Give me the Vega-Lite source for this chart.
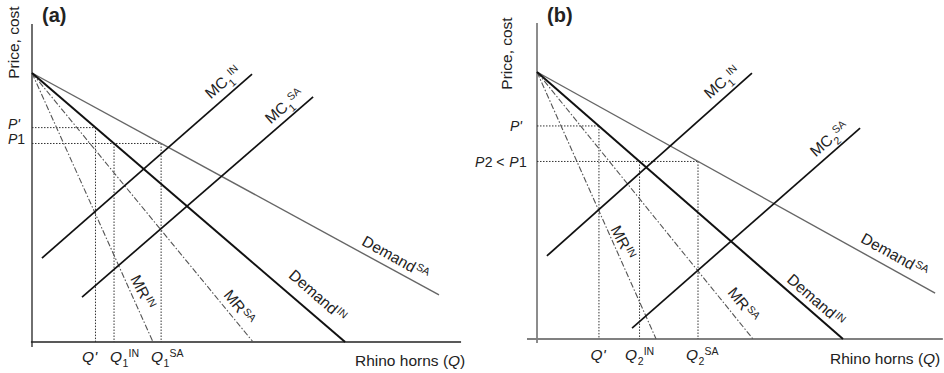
{
  "$schema": "https://vega.github.io/schema/vega-lite/v6.json",
  "width": 944,
  "height": 373,
  "autosize": {"type": "fit", "contains": "padding"},
  "padding": 0,
  "background": "white",
  "config": {"view": {"stroke": null}, "text": {"font": "Liberation Sans", "color": "#222"}},
  "data": {"values": [
    {"panel": "a", "kind": "axis", "q": 0, "p": -1.9, "q2": 0, "p2": 118.2},
    {"panel": "a", "kind": "axis", "q": -0.4, "p": 0, "q2": 159.5, "p2": 0},
    {"panel": "a", "kind": "demandSA", "q": 0, "p": 100, "q2": 151.3, "p2": 17.5},
    {"panel": "a", "kind": "demandIN", "q": 0, "p": 100, "q2": 116.4, "p2": 0},
    {"panel": "a", "kind": "mr", "q": 0, "p": 100, "q2": 45.0, "p2": 0},
    {"panel": "a", "kind": "mr", "q": 0, "p": 100, "q2": 82.2, "p2": 0},
    {"panel": "a", "kind": "mc", "q": 3.7, "p": 31.2, "q2": 81.8, "p2": 99.6},
    {"panel": "a", "kind": "mc", "q": 18.6, "p": 16.7, "q2": 104.5, "p2": 91.1},
    {"panel": "a", "kind": "guide", "q": 0, "p": 79.7, "q2": 23.6, "p2": 79.7},
    {"panel": "a", "kind": "guide", "q": 23.6, "p": 79.7, "q2": 23.6, "p2": 0},
    {"panel": "a", "kind": "guide", "q": 0, "p": 73.8, "q2": 48.0, "p2": 73.8},
    {"panel": "a", "kind": "guide", "q": 30.5, "p": 73.8, "q2": 30.5, "p2": 0},
    {"panel": "a", "kind": "guide", "q": 48.0, "p": 73.8, "q2": 48.0, "p2": 0},
    {"panel": "a", "kind": "label", "dir": "mc", "label": "MC", "sub": "1", "sup": "IN", "q": 73.2, "p": 96.0},
    {"panel": "a", "kind": "label", "dir": "mc", "label": "MC", "sub": "1", "sup": "SA", "q": 95.5, "p": 86.7},
    {"panel": "a", "kind": "label", "dir": "mrin", "label": "MR", "sub": "", "sup": "IN", "q": 40.5, "p": 15.6},
    {"panel": "a", "kind": "label", "dir": "mrsa", "label": "MR", "sub": "", "sup": "SA", "q": 76.6, "p": 10.4},
    {"panel": "a", "kind": "label", "dir": "din", "label": "Demand", "sub": "", "sup": "IN", "q": 111.5, "p": 10.0},
    {"panel": "a", "kind": "label", "dir": "dsa", "label": "Demand", "sub": "", "sup": "SA", "q": 141.3, "p": 25.7},
    {"panel": "a", "kind": "label", "dir": "h", "label": "Q'", "sub": "", "sup": "", "q": 24.2, "p": -7.43},
    {"panel": "a", "kind": "label", "dir": "h", "label": "Q", "sub": "1", "sup": "IN", "q": 33.5, "p": -7.43},
    {"panel": "a", "kind": "label", "dir": "h", "label": "Q", "sub": "1", "sup": "SA", "q": 48.7, "p": -7.43},
    {"panel": "a", "kind": "piece", "role": "heading", "text": "(a)", "q": 3.72, "p": 118.96},
    {"panel": "a", "kind": "piece", "role": "ytitle", "text": "Price, cost", "q": -4.65, "p": 111.3},
    {"panel": "a", "kind": "piece", "role": "pvar", "text": "P'", "q": -8.92, "p": 79.37},
    {"panel": "a", "kind": "piece", "role": "pvar", "text": "P", "q": -8.92, "p": 73.61},
    {"panel": "a", "kind": "piece", "role": "ptext", "text": "1", "q": -5.46, "p": 73.61},
    {"panel": "a", "kind": "piece", "role": "text", "text": "Rhino horns (", "q": 120.07, "p": -8.92},
    {"panel": "a", "kind": "piece", "role": "var", "text": "Q", "q": 154.65, "p": -8.92},
    {"panel": "a", "kind": "piece", "role": "text", "text": ")", "q": 159.14, "p": -8.92},

    {"panel": "b", "kind": "axis", "q": 0, "p": -1.5, "q2": 0, "p2": 118.4},
    {"panel": "b", "kind": "axis", "q": -3.75, "p": 0, "q2": 152.0, "p2": 0},
    {"panel": "b", "kind": "demandSA", "q": 0, "p": 100, "q2": 149.1, "p2": 17.2},
    {"panel": "b", "kind": "demandIN", "q": 0, "p": 100, "q2": 114.6, "p2": 0},
    {"panel": "b", "kind": "mr", "q": 0, "p": 100, "q2": 44.6, "p2": 0},
    {"panel": "b", "kind": "mr", "q": 0, "p": 100, "q2": 80.9, "p2": 0},
    {"panel": "b", "kind": "mc", "q": 3.7, "p": 31.1, "q2": 80.5, "p2": 99.6},
    {"panel": "b", "kind": "mc", "q": 35.6, "p": 4.1, "q2": 121.0, "p2": 79.0},
    {"panel": "b", "kind": "guide", "q": 0, "p": 79.8, "q2": 23.2, "p2": 79.8},
    {"panel": "b", "kind": "guide", "q": 23.2, "p": 79.8, "q2": 23.2, "p2": 0},
    {"panel": "b", "kind": "guide", "q": 0, "p": 66.5, "q2": 60.3, "p2": 66.5},
    {"panel": "b", "kind": "guide", "q": 38.4, "p": 66.5, "q2": 38.4, "p2": 0},
    {"panel": "b", "kind": "guide", "q": 60.3, "p": 66.5, "q2": 60.3, "p2": 0},
    {"panel": "b", "kind": "label", "dir": "mc", "label": "MC", "sub": "1", "sup": "IN", "q": 71.5, "p": 95.6},
    {"panel": "b", "kind": "label", "dir": "mc", "label": "MC", "sub": "2", "sup": "SA", "q": 111.2, "p": 73.9},
    {"panel": "b", "kind": "label", "dir": "mrin", "label": "MR", "sub": "", "sup": "IN", "q": 31.5, "p": 33.2},
    {"panel": "b", "kind": "label", "dir": "mrsa", "label": "MR", "sub": "", "sup": "SA", "q": 76.8, "p": 10.3},
    {"panel": "b", "kind": "label", "dir": "din", "label": "Demand", "sub": "", "sup": "IN", "q": 109.8, "p": 7.3},
    {"panel": "b", "kind": "label", "dir": "dsa", "label": "Demand", "sub": "", "sup": "SA", "q": 140.1, "p": 25.8},
    {"panel": "b", "kind": "label", "dir": "h", "label": "Q'", "sub": "", "sup": "", "q": 25.7, "p": -7.68},
    {"panel": "b", "kind": "label", "dir": "h", "label": "Q", "sub": "2", "sup": "IN", "q": 37.5, "p": -7.68},
    {"panel": "b", "kind": "label", "dir": "h", "label": "Q", "sub": "2", "sup": "SA", "q": 60.3, "p": -7.68},
    {"panel": "b", "kind": "piece", "role": "heading", "text": "(b)", "q": 3.75, "p": 118.73},
    {"panel": "b", "kind": "piece", "role": "ytitle", "text": "Price, cost", "q": -9.18, "p": 106.93},
    {"panel": "b", "kind": "piece", "role": "pvar", "text": "P'", "q": -10.11, "p": 78.09},
    {"panel": "b", "kind": "piece", "role": "pvar", "text": "P", "q": -23.22, "p": 64.42},
    {"panel": "b", "kind": "piece", "role": "ptext", "text": "2 <", "q": -19.6, "p": 64.42},
    {"panel": "b", "kind": "piece", "role": "pvar", "text": "P", "q": -10.39, "p": 64.42},
    {"panel": "b", "kind": "piece", "role": "ptext", "text": "1", "q": -6.77, "p": 64.42},
    {"panel": "b", "kind": "piece", "role": "text", "text": "Rhino horns (", "q": 109.74, "p": -9.36},
    {"panel": "b", "kind": "piece", "role": "var", "text": "Q", "q": 144.57, "p": -9.36},
    {"panel": "b", "kind": "piece", "role": "text", "text": ")", "q": 149.1, "p": -9.36}
  ]},
  "layer": [
    {
      "transform": [{"filter": "datum.panel === 'a'"}],
      "encoding": {
        "x": {"field": "q", "type": "quantitative", "scale": {"domain": [-11.896, 339.03], "nice": false, "zero": false}, "axis": null},
        "y": {"field": "p", "type": "quantitative", "scale": {"domain": [-11.52, 127.14], "nice": false, "zero": false}, "axis": null}
      },
      "layer": [
        {"transform": [{"filter": "datum.kind === 'axis'"}], "mark": {"type": "rule", "color": "#222", "strokeWidth": 1.3}, "encoding": {"x2": {"field": "q2"}, "y2": {"field": "p2"}}},
        {"transform": [{"filter": "datum.kind === 'guide'"}], "mark": {"type": "rule", "color": "#333", "strokeWidth": 1, "strokeDash": [1.5, 1.5]}, "encoding": {"x2": {"field": "q2"}, "y2": {"field": "p2"}}},
        {"transform": [{"filter": "datum.kind === 'demandSA'"}], "mark": {"type": "rule", "color": "#666", "strokeWidth": 1.4}, "encoding": {"x2": {"field": "q2"}, "y2": {"field": "p2"}}},
        {"transform": [{"filter": "datum.kind === 'mr'"}], "mark": {"type": "rule", "color": "#555", "strokeWidth": 1.1, "strokeDash": [6, 2, 1.5, 2]}, "encoding": {"x2": {"field": "q2"}, "y2": {"field": "p2"}}},
        {"transform": [{"filter": "datum.kind === 'demandIN'"}], "mark": {"type": "rule", "color": "#111", "strokeWidth": 2}, "encoding": {"x2": {"field": "q2"}, "y2": {"field": "p2"}}},
        {"transform": [{"filter": "datum.kind === 'mc'"}], "mark": {"type": "rule", "color": "#111", "strokeWidth": 1.7}, "encoding": {"x2": {"field": "q2"}, "y2": {"field": "p2"}}},
        {"transform": [{"filter": "datum.kind === 'label' && datum.dir !== 'h'"}], "mark": {"type": "text", "align": "right", "baseline": "alphabetic", "fontSize": 15.5}, "encoding": {"text": {"field": "label"}, "angle": {"field": "dir", "type": "nominal", "scale": {"type": "ordinal", "domain": ["h", "mc", "mrin", "mrsa", "din", "dsa"], "range": [0, 319, 63, 51, 41, 29]}, "legend": null}}},
        {"transform": [{"filter": "datum.kind === 'label' && datum.dir === 'h'"}], "mark": {"type": "text", "align": "right", "baseline": "alphabetic", "fontSize": 15.5, "fontStyle": "italic"}, "encoding": {"text": {"field": "label"}}},
        {"transform": [{"filter": "datum.kind === 'label' && datum.sub !== ''"}], "mark": {"type": "text", "align": "left", "baseline": "alphabetic", "fontSize": 10.5, "dx": 0.5, "dy": 5}, "encoding": {"text": {"field": "sub"}, "angle": {"field": "dir", "type": "nominal", "scale": {"type": "ordinal", "domain": ["h", "mc", "mrin", "mrsa", "din", "dsa"], "range": [0, 319, 63, 51, 41, 29]}, "legend": null}}},
        {"transform": [{"filter": "datum.kind === 'label' && datum.sub !== '' && datum.sup !== ''"}], "mark": {"type": "text", "align": "left", "baseline": "alphabetic", "fontSize": 10.5, "dx": 6.5, "dy": -4.5}, "encoding": {"text": {"field": "sup"}, "angle": {"field": "dir", "type": "nominal", "scale": {"type": "ordinal", "domain": ["h", "mc", "mrin", "mrsa", "din", "dsa"], "range": [0, 319, 63, 51, 41, 29]}, "legend": null}}},
        {"transform": [{"filter": "datum.kind === 'label' && datum.sub === '' && datum.sup !== ''"}], "mark": {"type": "text", "align": "left", "baseline": "alphabetic", "fontSize": 10.5, "dx": 1, "dy": -5}, "encoding": {"text": {"field": "sup"}, "angle": {"field": "dir", "type": "nominal", "scale": {"type": "ordinal", "domain": ["h", "mc", "mrin", "mrsa", "din", "dsa"], "range": [0, 319, 63, 51, 41, 29]}, "legend": null}}},
        {"transform": [{"filter": "datum.kind === 'piece' && datum.role === 'var'"}], "mark": {"type": "text", "align": "left", "baseline": "alphabetic", "fontSize": 15.5, "fontStyle": "italic"}, "encoding": {"text": {"field": "text"}}},
        {"transform": [{"filter": "datum.kind === 'piece' && datum.role === 'text'"}], "mark": {"type": "text", "align": "left", "baseline": "alphabetic", "fontSize": 15.5}, "encoding": {"text": {"field": "text"}}},
        {"transform": [{"filter": "datum.kind === 'piece' && datum.role === 'pvar'"}], "mark": {"type": "text", "align": "left", "baseline": "alphabetic", "fontSize": 14, "fontStyle": "italic"}, "encoding": {"text": {"field": "text"}}},
        {"transform": [{"filter": "datum.kind === 'piece' && datum.role === 'ptext'"}], "mark": {"type": "text", "align": "left", "baseline": "alphabetic", "fontSize": 14}, "encoding": {"text": {"field": "text"}}},
        {"transform": [{"filter": "datum.kind === 'piece' && datum.role === 'heading'"}], "mark": {"type": "text", "align": "left", "baseline": "alphabetic", "fontSize": 20, "fontWeight": "bold"}, "encoding": {"text": {"field": "text"}}},
        {"transform": [{"filter": "datum.kind === 'piece' && datum.role === 'ytitle'"}], "mark": {"type": "text", "align": "center", "baseline": "alphabetic", "fontSize": 15.5, "angle": 270}, "encoding": {"text": {"field": "text"}}}
      ]
    },
    {
      "transform": [{"filter": "datum.panel === 'b'"}],
      "encoding": {
        "x": {"field": "q", "type": "quantitative", "scale": {"domain": [-201.12, 152.43], "nice": false, "zero": false}, "axis": null},
        "y": {"field": "p", "type": "quantitative", "scale": {"domain": [-12.73, 126.97], "nice": false, "zero": false}, "axis": null}
      },
      "layer": [
        {"transform": [{"filter": "datum.kind === 'axis'"}], "mark": {"type": "rule", "color": "#808080", "strokeWidth": 1.8}, "encoding": {"x2": {"field": "q2"}, "y2": {"field": "p2"}}},
        {"transform": [{"filter": "datum.kind === 'guide'"}], "mark": {"type": "rule", "color": "#333", "strokeWidth": 1, "strokeDash": [1.5, 1.5]}, "encoding": {"x2": {"field": "q2"}, "y2": {"field": "p2"}}},
        {"transform": [{"filter": "datum.kind === 'demandSA'"}], "mark": {"type": "rule", "color": "#666", "strokeWidth": 1.4}, "encoding": {"x2": {"field": "q2"}, "y2": {"field": "p2"}}},
        {"transform": [{"filter": "datum.kind === 'mr'"}], "mark": {"type": "rule", "color": "#555", "strokeWidth": 1.1, "strokeDash": [6, 2, 1.5, 2]}, "encoding": {"x2": {"field": "q2"}, "y2": {"field": "p2"}}},
        {"transform": [{"filter": "datum.kind === 'demandIN'"}], "mark": {"type": "rule", "color": "#111", "strokeWidth": 2}, "encoding": {"x2": {"field": "q2"}, "y2": {"field": "p2"}}},
        {"transform": [{"filter": "datum.kind === 'mc'"}], "mark": {"type": "rule", "color": "#111", "strokeWidth": 1.7}, "encoding": {"x2": {"field": "q2"}, "y2": {"field": "p2"}}},
        {"transform": [{"filter": "datum.kind === 'label' && datum.dir !== 'h'"}], "mark": {"type": "text", "align": "right", "baseline": "alphabetic", "fontSize": 15.5}, "encoding": {"text": {"field": "label"}, "angle": {"field": "dir", "type": "nominal", "scale": {"type": "ordinal", "domain": ["h", "mc", "mrin", "mrsa", "din", "dsa"], "range": [0, 319, 63, 51, 41, 29]}, "legend": null}}},
        {"transform": [{"filter": "datum.kind === 'label' && datum.dir === 'h'"}], "mark": {"type": "text", "align": "right", "baseline": "alphabetic", "fontSize": 15.5, "fontStyle": "italic"}, "encoding": {"text": {"field": "label"}}},
        {"transform": [{"filter": "datum.kind === 'label' && datum.sub !== ''"}], "mark": {"type": "text", "align": "left", "baseline": "alphabetic", "fontSize": 10.5, "dx": 0.5, "dy": 5}, "encoding": {"text": {"field": "sub"}, "angle": {"field": "dir", "type": "nominal", "scale": {"type": "ordinal", "domain": ["h", "mc", "mrin", "mrsa", "din", "dsa"], "range": [0, 319, 63, 51, 41, 29]}, "legend": null}}},
        {"transform": [{"filter": "datum.kind === 'label' && datum.sub !== '' && datum.sup !== ''"}], "mark": {"type": "text", "align": "left", "baseline": "alphabetic", "fontSize": 10.5, "dx": 6.5, "dy": -4.5}, "encoding": {"text": {"field": "sup"}, "angle": {"field": "dir", "type": "nominal", "scale": {"type": "ordinal", "domain": ["h", "mc", "mrin", "mrsa", "din", "dsa"], "range": [0, 319, 63, 51, 41, 29]}, "legend": null}}},
        {"transform": [{"filter": "datum.kind === 'label' && datum.sub === '' && datum.sup !== ''"}], "mark": {"type": "text", "align": "left", "baseline": "alphabetic", "fontSize": 10.5, "dx": 1, "dy": -5}, "encoding": {"text": {"field": "sup"}, "angle": {"field": "dir", "type": "nominal", "scale": {"type": "ordinal", "domain": ["h", "mc", "mrin", "mrsa", "din", "dsa"], "range": [0, 319, 63, 51, 41, 29]}, "legend": null}}},
        {"transform": [{"filter": "datum.kind === 'piece' && datum.role === 'var'"}], "mark": {"type": "text", "align": "left", "baseline": "alphabetic", "fontSize": 15.5, "fontStyle": "italic"}, "encoding": {"text": {"field": "text"}}},
        {"transform": [{"filter": "datum.kind === 'piece' && datum.role === 'text'"}], "mark": {"type": "text", "align": "left", "baseline": "alphabetic", "fontSize": 15.5}, "encoding": {"text": {"field": "text"}}},
        {"transform": [{"filter": "datum.kind === 'piece' && datum.role === 'pvar'"}], "mark": {"type": "text", "align": "left", "baseline": "alphabetic", "fontSize": 14, "fontStyle": "italic"}, "encoding": {"text": {"field": "text"}}},
        {"transform": [{"filter": "datum.kind === 'piece' && datum.role === 'ptext'"}], "mark": {"type": "text", "align": "left", "baseline": "alphabetic", "fontSize": 14}, "encoding": {"text": {"field": "text"}}},
        {"transform": [{"filter": "datum.kind === 'piece' && datum.role === 'heading'"}], "mark": {"type": "text", "align": "left", "baseline": "alphabetic", "fontSize": 20, "fontWeight": "bold"}, "encoding": {"text": {"field": "text"}}},
        {"transform": [{"filter": "datum.kind === 'piece' && datum.role === 'ytitle'"}], "mark": {"type": "text", "align": "center", "baseline": "alphabetic", "fontSize": 15.5, "angle": 270}, "encoding": {"text": {"field": "text"}}}
      ]
    }
  ],
  "resolve": {"scale": {"x": "independent", "y": "independent"}}
}
